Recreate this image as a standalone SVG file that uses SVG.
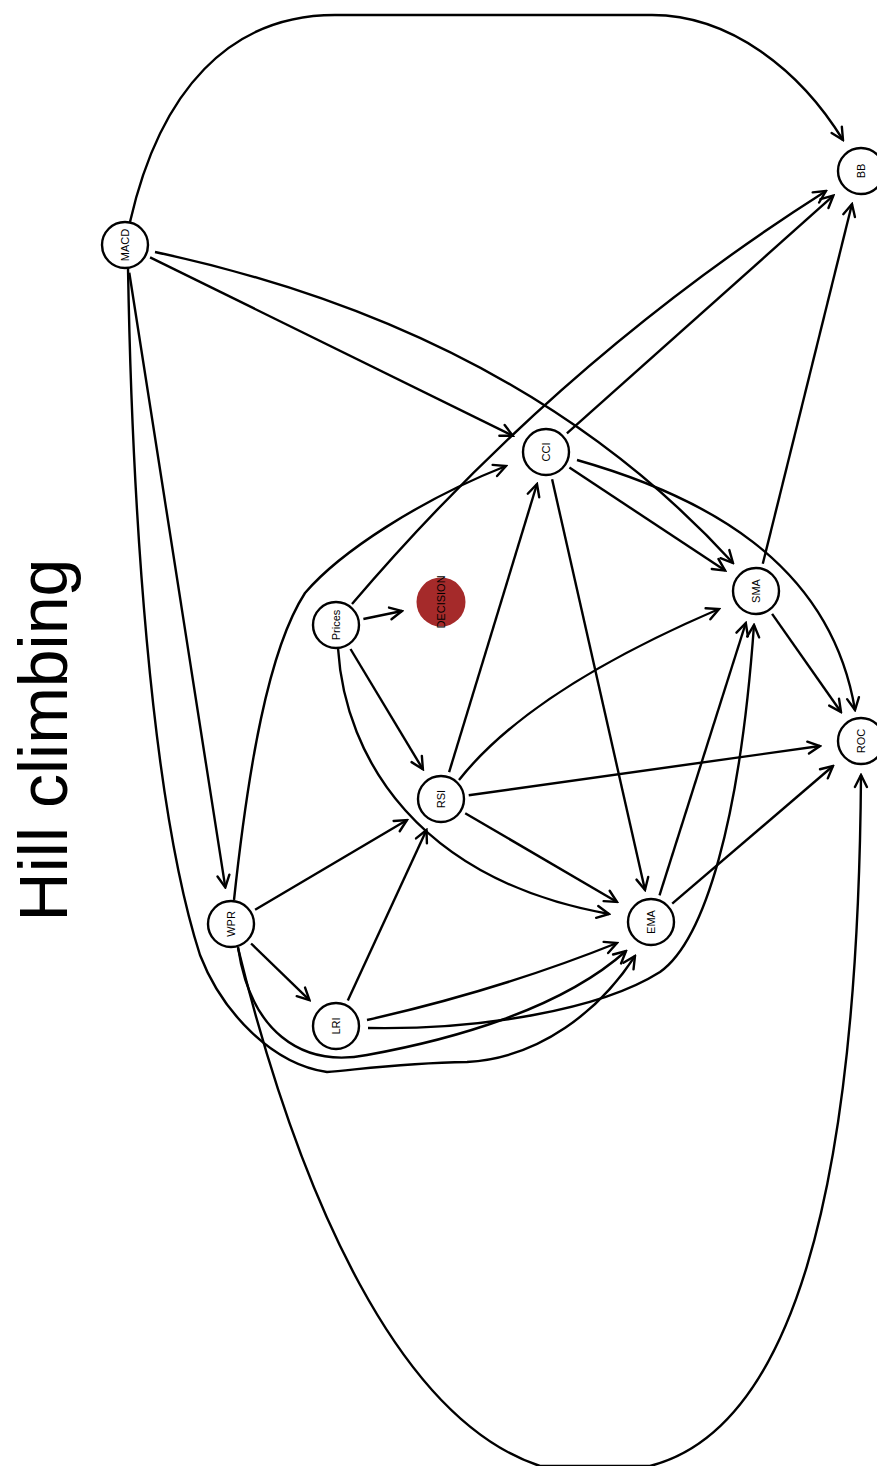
<svg xmlns="http://www.w3.org/2000/svg" width="877" height="1466" viewBox="0 0 877 1466">
<defs>
<marker id="arr" markerUnits="userSpaceOnUse" markerWidth="16" markerHeight="16" viewBox="0 0 16 16" refX="14" refY="8" orient="auto">
<path d="M2,2 L14,8 L2,14" fill="none" stroke="#000" stroke-width="2.4" stroke-linecap="round" stroke-linejoin="miter"/>
</marker>
<style>
.e{fill:none;stroke:#000;stroke-width:2.4;marker-end:url(#arr)}
.n{fill:#fff;stroke:#000;stroke-width:2.4}
.d{fill:#a52a2a;stroke:none}
.t{font-family:"Liberation Sans",Arial,sans-serif;font-size:11px;fill:#000;text-anchor:middle;dominant-baseline:central}
.title{font-family:"Liberation Sans",Arial,sans-serif;font-size:68px;fill:#000;text-anchor:middle}
</style>
</defs>
<rect width="877" height="1466" fill="#fff"/>
<text class="title" transform="translate(67,740) rotate(-90)">Hill climbing</text>
<g id="edges">
<path class="e" d="M130,222 C160,90 230,15 335,15 L652,15 C730,15 800,70 843,140"/>
<path class="e" d="M150.1,257.4 L512.8,435.7"/>
<path class="e" d="M155,252 Q520,330 733,563"/>
<path class="e" d="M129.3,272.7 L225.3,887.4"/>
<path class="e" d="M128,268 C132,500 150,800 200,955 C222,1012 272,1064 327,1072 C355,1070 400,1063 467,1062 C540,1058 600,1010 635,956"/>
<path class="e" d="M566.9,433.4 L833.4,195.6"/>
<path class="e" d="M352,604 Q560,360 826,191"/>
<path class="e" d="M762.8,563.8 L852,204"/>
<path class="e" d="M569.4,467.5 L725.1,570.6"/>
<path class="e" d="M577,460 C700,495 830,560 855,710"/>
<path class="e" d="M552.1,479.3 L645,890"/>
<path class="e" d="M772.1,613.9 L841,712"/>
<path class="e" d="M363.4,619 L402,611"/>
<path class="e" d="M350.5,649 L422.9,769.3"/>
<path class="e" d="M338,648 C345,760 420,880 609,914"/>
<path class="e" d="M449.1,772.2 L537,484"/>
<path class="e" d="M459,780 Q530,690 719,609"/>
<path class="e" d="M468.7,795.2 L820,746"/>
<path class="e" d="M465.2,813.2 L617,902"/>
<path class="e" d="M234,900 C248,770 268,650 305,593 C340,552 420,500 506,466"/>
<path class="e" d="M255.1,909.7 L407,820"/>
<path class="e" d="M251.1,943.5 L309.5,1000.2"/>
<path class="e" d="M238,947 C250,1030 300,1068 367,1055 C450,1040 560,1010 626,951"/>
<path class="e" d="M238,948 C300,1200 400,1420 540,1466 L650,1466 C790,1430 858,1200 861,775"/>
<path class="e" d="M347.8,1000.6 L426.5,830"/>
<path class="e" d="M367,1020 Q500,990 617,943"/>
<path class="e" d="M368,1028 C480,1030 600,1010 660,972 C705,940 740,820 754,625"/>
<path class="e" d="M659.5,895.3 L745.8,623"/>
<path class="e" d="M672.2,903.7 L833,766"/>
</g>
<g id="MACD"><circle class="n" cx="125" cy="245" r="23"/><text class="t" transform="translate(125,245) rotate(-90)">MACD</text></g>
<g id="Prices"><circle class="n" cx="336" cy="625" r="23"/><text class="t" transform="translate(336,625) rotate(-90)">Prices</text></g>
<g id="DECISION"><circle class="d" cx="441" cy="602" r="24.5"/><text class="t" transform="translate(441,602) rotate(-90)">DECISION</text></g>
<g id="RSI"><circle class="n" cx="441" cy="799" r="23"/><text class="t" transform="translate(441,799) rotate(-90)">RSI</text></g>
<g id="CCI"><circle class="n" cx="546" cy="452" r="23"/><text class="t" transform="translate(546,452) rotate(-90)">CCI</text></g>
<g id="SMA"><circle class="n" cx="756" cy="591" r="23"/><text class="t" transform="translate(756,591) rotate(-90)">SMA</text></g>
<g id="BB"><circle class="n" cx="861" cy="171" r="23"/><text class="t" transform="translate(861,171) rotate(-90)">BB</text></g>
<g id="ROC"><circle class="n" cx="861" cy="741" r="23"/><text class="t" transform="translate(861,741) rotate(-90)">ROC</text></g>
<g id="WPR"><circle class="n" cx="231" cy="924" r="23"/><text class="t" transform="translate(231,924) rotate(-90)">WPR</text></g>
<g id="LRI"><circle class="n" cx="336" cy="1026" r="23"/><text class="t" transform="translate(336,1026) rotate(-90)">LRI</text></g>
<g id="EMA"><circle class="n" cx="651" cy="922" r="23"/><text class="t" transform="translate(651,922) rotate(-90)">EMA</text></g>
</svg>
